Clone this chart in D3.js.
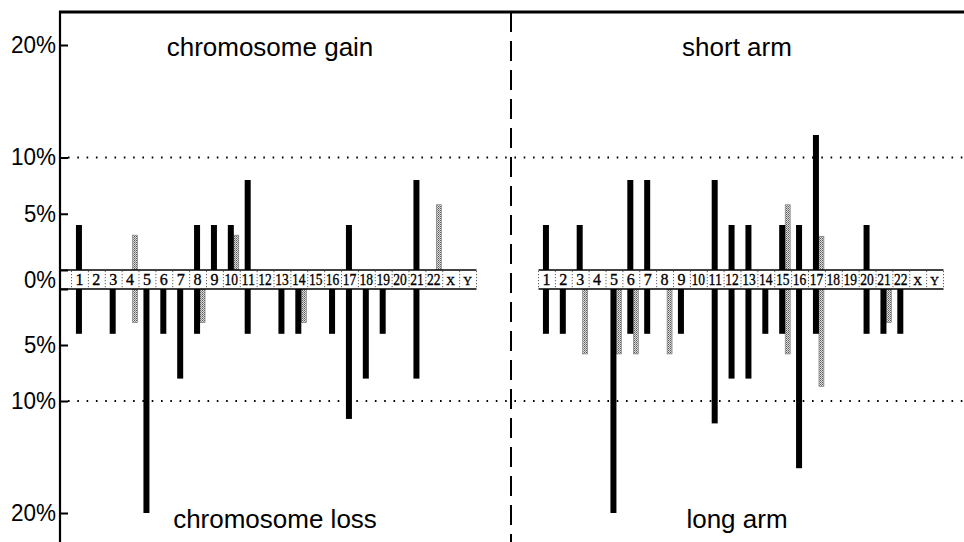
<!DOCTYPE html>
<html>
<head>
<meta charset="utf-8">
<script src="https://cdn.jsdelivr.net/npm/d3@7"></script>
<style>
  html, body { margin: 0; padding: 0; background: #fff; }
  svg { display: block; }
</style>
</head>
<body>
<svg id="chart" width="964" height="542"></svg>
<script>
// ---- data ----
const chromosomes = ["1","2","3","4","5","6","7","8","9","10","11","12","13","14","15","16","17","18","19","20","21","22","X","Y"];

// left panel: whole chromosome gain / loss (percent)
const gainBlack = [["1",4],["8",4],["9",4],["10",4],["11",8],["17",4],["21",8]];
const gainGray  = [["4",3.1],["10",3.1],["22",5.8]];
const lossBlack = [["1",4],["3",4],["5",20],["6",4],["7",8],["8",4],["11",4],["13",4],["14",4],["16",4],["17",11.6],["18",8],["19",4],["21",8]];
const lossGray  = [["4",3],["8",3],["14",3]];

// right panel: short arm / long arm (percent)
const shortBlack = [["1",4],["3",4],["6",8],["7",8],["11",8],["12",4],["13",4],["15",4],["16",4],["17",12],["20",4]];
const shortGray  = [["15",5.8],["17",3]];
const longBlack  = [["1",4],["2",4],["5",20],["6",4],["7",4],["9",4],["11",12],["12",8],["13",8],["14",4],["15",4],["16",16],["17",4],["20",4],["21",4],["22",4]];
const longGray   = [["3",5.8],["5",5.8],["6",5.8],["8",5.8],["15",5.8],["17",8.7],["21",3]];

const tickValues = [0, 5, 10, 20];
const gridValues = [10];
const panelTitles = [["chromosome gain","chromosome loss"],["short arm","long arm"]];

// ---- layout ----
const svg = d3.select("#chart");
const W = 964, H = 542;
const axisX = 60, topY = 12;
const bandTop = 270, bandBot = 289;
const yUp = d3.scaleLinear().domain([0, 20]).range([bandTop, 45]);
const yDn = d3.scaleLinear().domain([0, 20]).range([bandBot, 513]);

const panels = [
  { x: d3.scaleBand().domain(chromosomes).range([71.5, 476.5]), up: [gainBlack, gainGray], dn: [lossBlack, lossGray], titles: panelTitles[0], tx: [270, 275] },
  { x: d3.scaleBand().domain(chromosomes).range([538.5, 943.5]), up: [shortBlack, shortGray], dn: [longBlack, longGray], titles: panelTitles[1], tx: [737, 737] }
];

// stipple pattern for grey bars
const defs = svg.append("defs");
const pat = defs.append("pattern").attr("id", "stip").attr("patternUnits", "userSpaceOnUse")
  .attr("width", 2).attr("height", 2);
pat.append("rect").attr("width", 2).attr("height", 2).attr("fill", "#dcdcdc");
pat.append("rect").attr("width", 1).attr("height", 1).attr("fill", "#5a5a5a");
pat.append("rect").attr("x", 1).attr("y", 1).attr("width", 1).attr("height", 1).attr("fill", "#8a8a8a");

// grid dotted lines at 10%
gridValues.forEach(v => {
  [yUp(v), yDn(v)].forEach(y => {
    svg.append("line").attr("x1", 68).attr("x2", W).attr("y1", y).attr("y2", y)
      .attr("stroke", "#000").attr("stroke-width", 2).attr("stroke-dasharray", "1.6,7.7");
  });
});

// dashed divider
svg.append("line").attr("x1", 511).attr("x2", 511).attr("y1", topY).attr("y2", H)
  .attr("stroke", "#000").attr("stroke-width", 2).attr("stroke-dasharray", "20,9");

// top border
svg.append("line").attr("x1", axisX - 1).attr("x2", W).attr("y1", topY).attr("y2", topY)
  .attr("stroke", "#000").attr("stroke-width", 3);

// axes
const fontSans = "'Liberation Sans', Arial, Helvetica, sans-serif";
const axUp = svg.append("g").attr("transform", `translate(${axisX},0)`)
  .call(d3.axisLeft(yUp).tickValues(tickValues).tickSizeInner(-8).tickSizeOuter(0).tickPadding(4)
    .tickFormat(d => d === 0 ? "" : d + "%"));
const axDn = svg.append("g").attr("transform", `translate(${axisX},0)`)
  .call(d3.axisLeft(yDn).tickValues(tickValues).tickSizeInner(-8).tickSizeOuter(0).tickPadding(4)
    .tickFormat(d => d === 0 ? "" : d + "%"));
[axUp, axDn].forEach(g => {
  g.select(".domain").remove();
  g.selectAll(".tick line").attr("stroke", "#000").attr("stroke-width", 2);
  g.selectAll(".tick text").attr("font-family", fontSans).attr("font-size", 23).attr("fill", "#000")
    .attr("x", -4).attr("textLength", 45).attr("lengthAdjust", "spacingAndGlyphs");
});
axUp.selectAll(".tick text").filter(d => d === 5).attr("textLength", 32);
axDn.selectAll(".tick text").filter(d => d === 5).attr("textLength", 32);
svg.append("text").attr("x", axisX - 4).attr("y", (bandTop + bandBot) / 2).attr("dy", "0.36em")
  .attr("text-anchor", "end").attr("font-family", fontSans).attr("font-size", 23)
  .attr("textLength", 32).attr("lengthAdjust", "spacingAndGlyphs").text("0%");
svg.append("line").attr("x1", axisX).attr("x2", axisX).attr("y1", topY - 1).attr("y2", H)
  .attr("stroke", "#000").attr("stroke-width", 2.2);

// panels
panels.forEach((p, pi) => {
  const x = p.x, bw = x.bandwidth();
  const x0 = x.range()[0], x1 = x.range()[1];
  const g = svg.append("g");

  const drawBars = (data, isUp, isGray) => {
    g.selectAll(null).data(data).enter().append("rect")
      .attr("x", d => x(d[0]) + bw / 2 + (isGray ? 2 : -4))
      .attr("width", isGray ? 5 : 6)
      .attr("y", d => isUp ? yUp(d[1]) : yDn(0))
      .attr("height", d => isUp ? yUp(0) - yUp(d[1]) : yDn(d[1]) - yDn(0))
      .attr("fill", isGray ? "url(#stip)" : "#000")
      .attr("stroke", isGray ? "#777" : "none").attr("stroke-width", 0.6);
  };
  drawBars(p.up[1], true, true);
  drawBars(p.up[0], true, false);
  drawBars(p.dn[1], false, true);
  drawBars(p.dn[0], false, false);

  // band
  g.append("rect").attr("x", x0).attr("y", bandTop).attr("width", x1 - x0).attr("height", bandBot - bandTop)
    .attr("fill", "#fff");
  const lx0 = pi === 0 ? axisX : x0;
  [bandTop, bandBot].forEach(y => {
    g.append("line").attr("x1", lx0).attr("x2", x1).attr("y1", y).attr("y2", y)
      .attr("stroke", "#000").attr("stroke-width", 1.6);
  });
  // cell separators
  g.selectAll(null).data(chromosomes).enter().append("line")
    .attr("x1", d => x(d)).attr("x2", d => x(d))
    .attr("y1", bandTop + 1).attr("y2", bandBot - 1)
    .attr("stroke", "#333").attr("stroke-width", 0.8).attr("stroke-dasharray", "1.2,1.8");
  g.append("line").attr("x1", x1).attr("x2", x1).attr("y1", bandTop + 1).attr("y2", bandBot - 1)
    .attr("stroke", "#333").attr("stroke-width", 0.8).attr("stroke-dasharray", "1.2,1.8");
  // labels
  g.selectAll(null).data(chromosomes).enter().append("text")
    .attr("x", d => x(d) + bw / 2 - 0.5)
    .attr("y", (bandTop + bandBot) / 2 + 5.5)
    .attr("text-anchor", "middle")
    .attr("font-family", "'Liberation Serif', 'Times New Roman', serif")
    .attr("font-size", d => (d === "X" || d === "Y") ? 12 : 16)
    .attr("stroke", "#000").attr("stroke-width", 0.35)
    .attr("textLength", d => d.length > 1 ? 13.5 : null)
    .attr("lengthAdjust", "spacingAndGlyphs")
    .text(d => d);

  // titles
  g.append("text").attr("x", p.tx[0]).attr("y", 56).attr("text-anchor", "middle")
    .attr("font-family", fontSans).attr("font-size", 26).text(p.titles[0]);
  g.append("text").attr("x", p.tx[1]).attr("y", 528).attr("text-anchor", "middle")
    .attr("font-family", fontSans).attr("font-size", 26).text(p.titles[1]);
});
</script>
</body>
</html>
